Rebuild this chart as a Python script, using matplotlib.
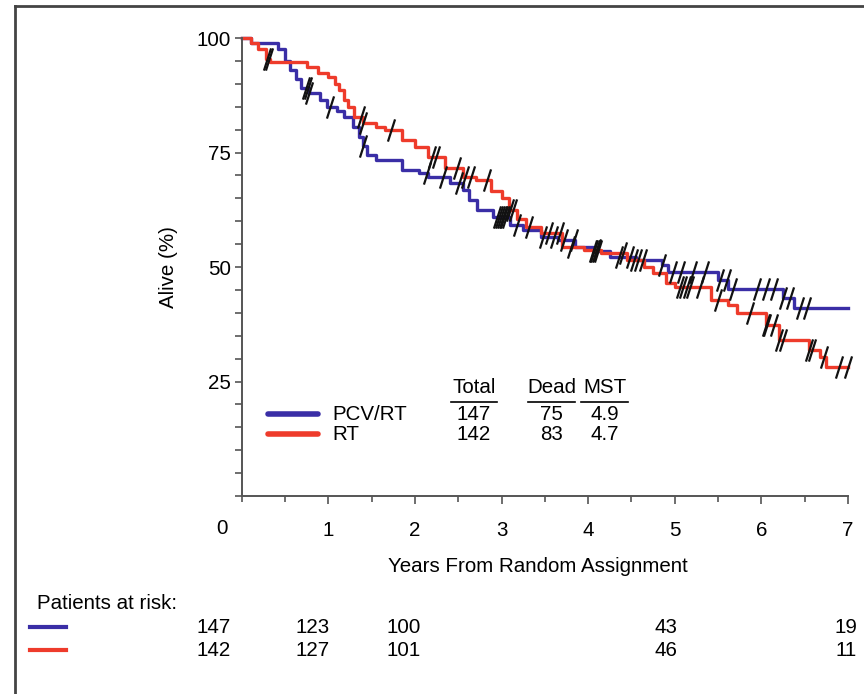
import numpy as np
import matplotlib
matplotlib.use("Agg")
import matplotlib.pyplot as plt
from matplotlib.path import Path
from matplotlib.lines import Line2D

plt.rcParams["font.family"] = ["Liberation Sans", "DejaVu Sans"]

# ---- Kaplan-Meier steps (years, % alive after the drop) ----
pcv_t = [0, 0.10, 0.42, 0.50, 0.55, 0.62, 0.68, 0.78, 0.90, 0.98, 1.10, 1.18, 1.28,
         1.35, 1.40, 1.45, 1.55, 1.85, 2.05, 2.15, 2.40, 2.55, 2.62, 2.72, 2.90,
         3.10, 3.25, 3.45, 3.65, 3.85, 4.05, 4.25, 4.55, 4.85, 4.92, 5.50, 5.62,
         6.25, 6.38, 7.0]
pcv_s = [100, 99, 97.5, 95, 93, 91, 89, 88, 86.5, 85, 84, 82.7, 80.6,
         78.4, 76.5, 74.5, 73.4, 71.2, 70.5, 69.7, 68.3, 66.8, 64.6, 62.4, 60.9,
         59.2, 58.1, 56.6, 55.9, 54.4, 53.5, 52.2, 51.5, 50.5, 48.9, 47.2, 45.2,
         43.3, 41.0, 41.0]

rt_t = [0, 0.10, 0.18, 0.28, 0.32, 0.75, 0.88, 1.00, 1.08, 1.12, 1.18, 1.22, 1.30,
        1.40, 1.55, 1.65, 1.85, 2.00, 2.15, 2.35, 2.55, 2.70, 2.88, 3.00, 3.08,
        3.18, 3.28, 3.45, 3.70, 3.95, 4.15, 4.45, 4.65, 4.75, 4.90, 5.00, 5.42,
        5.62, 5.72, 6.05, 6.20, 6.55, 6.68, 6.75, 7.0]
rt_s = [100, 99, 97.5, 95.5, 94.8, 93.7, 92.4, 91.5, 90, 88.6, 86.5, 85, 82.8,
        81.4, 80.5, 80, 77.7, 76.2, 74, 71.6, 69.7, 69, 66.5, 65.1, 62.4,
        60.5, 58.7, 57.4, 54.4, 53.7, 53, 51.5, 50, 48.7, 46.5, 45.6, 42.8,
        41.7, 40, 37.3, 34.1, 31.9, 30.3, 28.2, 28.2]

# censoring times (years)
pcv_cens = [0.74, 0.76, 0.78, 1.02, 1.40, 2.14, 2.32, 2.51, 2.95, 2.97, 2.99, 3.01,
            3.03, 3.05, 3.18, 3.48, 3.60, 3.72, 3.84, 4.05, 4.07, 4.09, 4.11, 4.35,
            4.48, 4.85, 4.98, 5.07, 5.21, 5.35, 5.52, 5.60, 5.67, 5.95, 6.05, 6.15,
            6.25, 6.33, 6.45, 6.53]
rt_cens = [0.29, 0.31, 1.38, 1.40, 1.72, 2.20, 2.24, 2.49, 2.58, 2.65, 2.83, 3.10,
           3.13, 3.32, 3.55, 3.67, 3.80, 4.10, 4.40, 4.53, 4.58, 4.63, 5.06, 5.10,
           5.14, 5.18, 5.29, 5.50, 5.87, 6.05, 6.07, 6.15, 6.20, 6.25, 6.55, 6.58,
           6.72, 6.90, 7.00]

groups = ["PCV/RT", "RT"]
totals = [147, 142]
deaths = [75, 83]
mst = [4.9, 4.7]

risk_times = [0, 1, 2, 5, 7]
risk_pcv = [147, 123, 100, 43, 19]
risk_rt = [142, 127, 101, 46, 11]

BLUE = "#3a2ea6"
RED = "#ee3b2b"
FS = 14.8

fig = plt.figure(figsize=(8.64, 6.94), dpi=100)
ax = fig.add_axes([0.280, 0.2853, 0.7014, 0.6599])

tick_path = Path([(-0.32, -1), (0.32, 1)], [Path.MOVETO, Path.LINETO])


def surv_at(times, surv, t):
    idx = np.searchsorted(times, t, side="right") - 1
    return np.asarray(surv)[idx]


for t, s, cens, col in [(pcv_t, pcv_s, pcv_cens, BLUE), (rt_t, rt_s, rt_cens, RED)]:
    ax.step(t, s, where="post", color=col, lw=2.4, clip_on=False, zorder=2)
    ax.plot(cens, surv_at(t, s, cens), ls="none", marker=tick_path, ms=16,
            mew=1.6, color="#111111", clip_on=False, zorder=3)

ax.set_xlim(0, 7)
ax.set_ylim(0, 100)
for side in ["top", "right"]:
    ax.spines[side].set_visible(False)
for side in ["left", "bottom"]:
    ax.spines[side].set_color("#555555")
    ax.spines[side].set_linewidth(1.4)

ax.set_xticks(np.arange(1, 8))
ax.set_xticks(np.arange(0, 7.01, 0.5), minor=True)
ax.set_yticks([25, 50, 75, 100])
ax.set_yticks(np.arange(0, 101, 5), minor=True)
ax.tick_params(axis="x", which="major", length=6, width=1.2, pad=12,
               labelsize=FS, colors="#555555", labelcolor="black")
ax.tick_params(axis="x", which="minor", length=4, width=1.2, colors="#555555")
ax.tick_params(axis="y", which="both", length=5, width=1.2, pad=3,
               labelsize=FS, colors="#555555", labelcolor="black")
ax.annotate("0", xy=(0, 0), xytext=(-20, -32), textcoords="offset pixels",
            ha="center", va="center", fontsize=FS)

ax.set_ylabel("Alive (%)", fontsize=FS)
ax.yaxis.set_label_coords(-0.105, 0.5)
ax.set_xlabel("Years From Random Assignment", fontsize=FS)
ax.xaxis.set_label_coords(0.488, -0.133)

# in-plot legend / summary table
hdr_x = [2.68, 3.58, 4.19]
for hx, h in zip(hdr_x, ["Total", "Dead", "MST"]):
    ax.text(hx, 23.8, h, ha="center", va="center", fontsize=FS)
    ax.plot([hx - 0.27, hx + 0.27], [20.6, 20.6], color="black", lw=1.2)
row_y = [17.9, 13.5]
for g, tot, d, m, col, ry in zip(groups, totals, deaths, mst, [BLUE, RED], row_y):
    ax.plot([0.30, 0.88], [ry, ry], color=col, lw=4, solid_capstyle="round")
    ax.text(1.05, ry, g, ha="left", va="center", fontsize=FS)
    ax.text(hdr_x[0], ry, str(tot), ha="center", va="center", fontsize=FS)
    ax.text(hdr_x[1], ry, str(d), ha="center", va="center", fontsize=FS)
    ax.text(hdr_x[2], ry, f"{m}", ha="center", va="center", fontsize=FS)

# patients at risk
fig.text(0.043, 0.1297, "Patients at risk:", ha="left", va="center", fontsize=FS)
risk_shift = [-0.33, -0.18, -0.13, -0.10, -0.02]
trans = matplotlib.transforms.blended_transform_factory(ax.transData, fig.transFigure)
for vals, col, fy in [(risk_pcv, BLUE, 0.0965), (risk_rt, RED, 0.0634)]:
    fig.add_artist(Line2D([0.035, 0.076], [fy, fy], color=col, lw=3))
    for t, v, dx in zip(risk_times, vals, risk_shift):
        ax.text(t + dx, fy, str(v), transform=trans, ha="center", va="center",
                fontsize=FS)

# outer frame (top and left edges)
fig.add_artist(Line2D([0.0174, 1.0], [0.9914, 0.9914], color="#444444", lw=2))
fig.add_artist(Line2D([0.0174, 0.0174], [0.0, 0.9914], color="#444444", lw=2))

fig.savefig("out.png", dpi=100, facecolor="white")
